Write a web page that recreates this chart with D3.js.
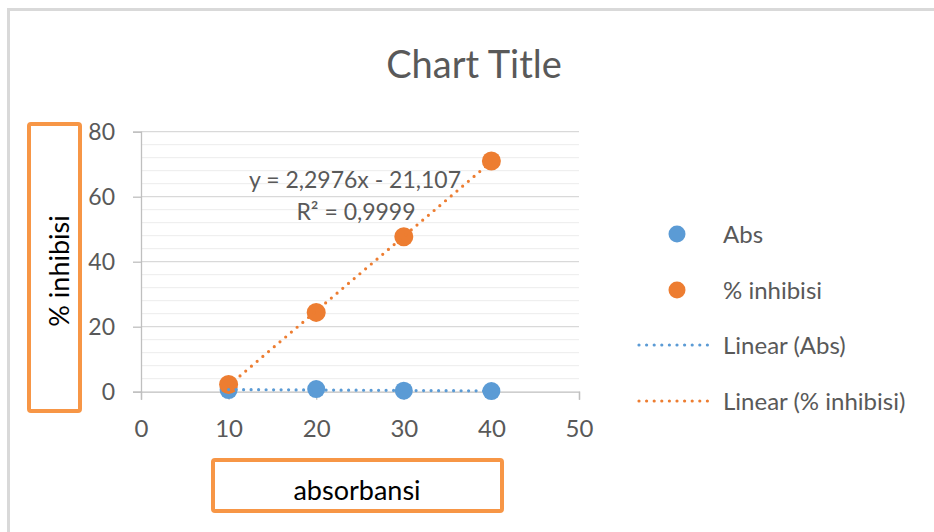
<!DOCTYPE html>
<html>
<head>
<meta charset="utf-8">
<script src="https://cdn.jsdelivr.net/npm/d3@7"></script>
<style>
    body { margin: 0; background: #fff; }
    svg { display: block; }
</style>
</head>
<body>
<svg class="inhibisiChart"></svg>
<script>
// values
const concentrations = [10, 20, 30, 40];
const absValues = [0.5, 0.8, 0.3, 0.2];
const inhibisiValues = [2.2, 24.4, 47.7, 71.0];
const xTickValues = [0, 10, 20, 30, 40, 50];
const yTickValues = [0, 20, 40, 60, 80];
const legendLabels = ["Abs", "% inhibisi", "Linear (Abs)", "Linear (% inhibisi)"];
const equationLines = ["y = 2,2976x - 21,107", "R² = 0,9999"];

const blue = "#5b9bd5", orange = "#ed7d31", boxOrange = "#f79646";
const font = "Lato, 'Open Sans', sans-serif";

function linearFit(xs, ys) {
    const n = xs.length;
    const mx = d3.mean(xs), my = d3.mean(ys);
    let num = 0, den = 0;
    for (let i = 0; i < n; i++) {
        num += (xs[i] - mx) * (ys[i] - my);
        den += (xs[i] - mx) * (xs[i] - mx);
    }
    const slope = num / den;
    return { slope: slope, intercept: my - slope * mx };
}

function drawChart() {
    const svg = d3.select(".inhibisiChart")
        .attr("width", 934)
        .attr("height", 532);

    // outer chart frame (only top and left are visible)
    svg.append("path")
        .attr("d", "M8.5,540 V9.5 H940")
        .attr("fill", "none")
        .attr("stroke", "#d9d9d9")
        .attr("stroke-width", 3);

    const x = d3.scaleLinear().domain([0, 50]).range([141, 579]);
    const y = d3.scaleLinear().domain([0, 80]).range([391.7, 131.7]);

    // minor gridlines
    svg.append("g")
        .selectAll("line")
        .data(d3.range(0, 81, 4).filter(v => v % 20 !== 0))
        .enter().append("line")
        .attr("x1", x(0)).attr("x2", x(50))
        .attr("y1", d => y(d)).attr("y2", d => y(d))
        .attr("stroke", "#ececec")
        .attr("stroke-width", 1);

    // major gridlines
    svg.append("g")
        .selectAll("line")
        .data(yTickValues.filter(v => v > 0))
        .enter().append("line")
        .attr("x1", x(0)).attr("x2", x(50))
        .attr("y1", d => y(d)).attr("y2", d => y(d))
        .attr("stroke", "#d9d9d9")
        .attr("stroke-width", 1.2);

    // Y axis
    const yAxis = svg.append("g")
        .attr("transform", `translate(${x(0)},0)`)
        .call(d3.axisLeft(y).tickValues(yTickValues).tickSize(8).tickPadding(18));
    // X axis
    const xAxis = svg.append("g")
        .attr("transform", `translate(0,${y(0)})`)
        .call(d3.axisBottom(x).tickValues(xTickValues).tickSize(8).tickPadding(20));

    [xAxis, yAxis].forEach(ax => {
        ax.select(".domain").attr("stroke", "#bfbfbf").attr("stroke-width", 1.3);
        ax.selectAll(".tick line").attr("stroke", "#bfbfbf").attr("stroke-width", 1.3);
        ax.selectAll(".tick text")
            .style("font-family", font)
            .style("font-size", "23px")
            .attr("fill", "#595959");
    });
    xAxis.selectAll(".tick text").style("font-size", "24px");

    // Abs markers
    svg.append("g")
        .selectAll("circle")
        .data(concentrations)
        .enter().append("circle")
        .attr("cx", d => x(d))
        .attr("cy", (d, i) => y(absValues[i]))
        .attr("r", 9)
        .attr("fill", blue);

    // % inhibisi markers
    svg.append("g")
        .selectAll("circle")
        .data(concentrations)
        .enter().append("circle")
        .attr("cx", d => x(d))
        .attr("cy", (d, i) => y(inhibisiValues[i]))
        .attr("r", 9.5)
        .attr("fill", orange);

    // trendlines
    const series = [[absValues, blue], [inhibisiValues, orange]];
    series.forEach(s => {
        const fit = linearFit(concentrations, s[0]);
        const ends = d3.extent(concentrations);
        svg.append("line")
            .attr("x1", x(ends[0])).attr("y1", y(fit.slope * ends[0] + fit.intercept))
            .attr("x2", x(ends[1])).attr("y2", y(fit.slope * ends[1] + fit.intercept))
            .attr("stroke", s[1])
            .attr("stroke-width", 3.2)
            .attr("stroke-linecap", "round")
            .attr("stroke-dasharray", "0 7.5");
    });

    // trendline equation
    svg.append("text")
        .attr("x", 355).attr("y", 188)
        .attr("text-anchor", "middle")
        .style("font-family", font)
        .style("font-size", "23px")
        .attr("fill", "#595959")
        .text(equationLines[0]);
    svg.append("text")
        .attr("x", 356).attr("y", 220)
        .attr("text-anchor", "middle")
        .style("font-family", font)
        .style("font-size", "23px")
        .attr("fill", "#595959")
        .text(equationLines[1]);

    // title
    svg.append("text")
        .attr("x", 474).attr("y", 78)
        .attr("text-anchor", "middle")
        .style("font-family", font)
        .style("font-size", "38px")
        .attr("fill", "#595959")
        .text("Chart Title");

    // legend
    const legend = svg.append("g");
    const rowY = [234, 290, 345, 401];
    legendLabels.forEach((label, i) => {
        const color = i % 2 === 0 ? blue : orange;
        if (i < 2) {
            legend.append("circle")
                .attr("cx", 677).attr("cy", rowY[i])
                .attr("r", 8.5)
                .attr("fill", color);
        } else {
            legend.append("line")
                .attr("x1", 639).attr("x2", 708)
                .attr("y1", rowY[i]).attr("y2", rowY[i])
                .attr("stroke", color)
                .attr("stroke-width", 3.2)
                .attr("stroke-linecap", "round")
                .attr("stroke-dasharray", "0 7.6");
        }
        legend.append("text")
            .attr("x", 723).attr("y", rowY[i] + 9)
            .style("font-family", font)
            .style("font-size", "24px")
            .attr("fill", "#595959")
            .text(label);
    });

    // axis title boxes
    svg.append("rect")
        .attr("x", 29).attr("y", 124)
        .attr("width", 51).attr("height", 287)
        .attr("rx", 2)
        .attr("fill", "none")
        .attr("stroke", boxOrange)
        .attr("stroke-width", 4);
    svg.append("text")
        .attr("transform", "translate(69,271) rotate(-90)")
        .attr("text-anchor", "middle")
        .style("font-family", font)
        .style("font-size", "27px")
        .attr("fill", "#000")
        .text("% inhibisi");

    svg.append("rect")
        .attr("x", 213).attr("y", 460)
        .attr("width", 289).attr("height", 51)
        .attr("rx", 2)
        .attr("fill", "none")
        .attr("stroke", boxOrange)
        .attr("stroke-width", 4);
    svg.append("text")
        .attr("x", 357).attr("y", 500)
        .attr("text-anchor", "middle")
        .style("font-family", font)
        .style("font-size", "27px")
        .attr("fill", "#000")
        .text("absorbansi");
}

drawChart();
</script>
</body>
</html>
